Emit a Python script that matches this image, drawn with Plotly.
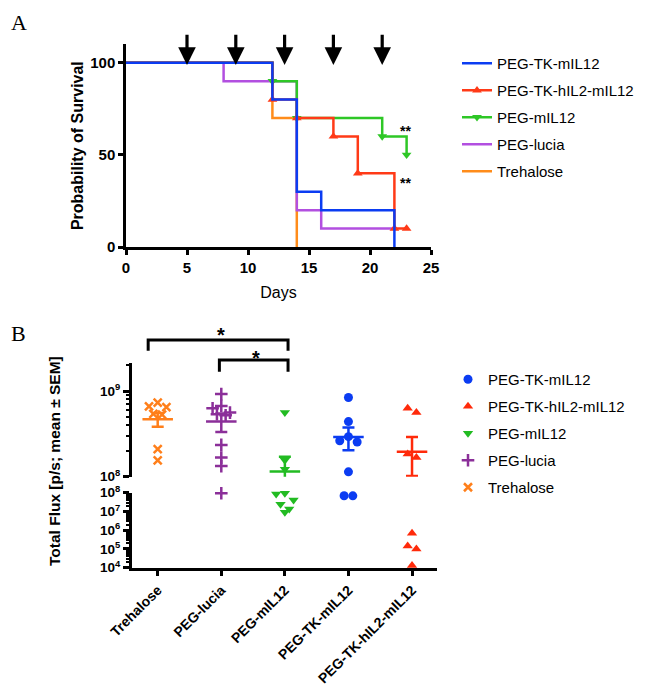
import numpy as np
import plotly.graph_objects as go

W, H = 646, 688
OFF = 8  # page body margin in the browser
FONT = "Arial, Liberation Sans, sans-serif"
SERIF = "Times New Roman, Liberation Serif, serif"

# ---------------- Panel A: survival data ----------------
days_tk = [0, 12, 14, 16, 22]
surv_tk = [100, 80, 30, 20, 0]
days_tkh = [0, 12, 14, 17, 19, 22, 23]
surv_tkh = [100, 80, 70, 60, 40, 10, 10]
days_mil = [0, 12, 14, 21, 23]
surv_mil = [100, 90, 70, 60, 50]
days_luc = [0, 8, 14, 16, 22]
surv_luc = [100, 90, 20, 10, 10]
days_tre = [0, 12, 14]
surv_tre = [100, 70, 0]
dose_days = [5, 9, 13, 17, 21]
x_ticks_a = [0, 5, 10, 15, 20, 25]
y_ticks_a = [0, 50, 100]
sig_a_text = ["**", "**"]
sig_a_y = [62.8, 34.6]
sig_a_x = [22.9, 22.9]

# ---------------- Panel B: flux data ----------------
categories = ["Trehalose", "PEG-lucia", "PEG-mIL12", "PEG-TK-mIL12", "PEG-TK-hIL2-mIL12"]
flux_trehalose = [7.3e8, 6.6e8, 6.5e8, 5.4e8, 5.3e8, 2.1e8, 1.55e8]
flux_lucia = [9.2e8, 6.7e8, 6.3e8, 5.6e8, 5.35e8, 5.2e8, 2.35e8, 1.67e8, 1.33e8, 9.3e7]
flux_mil12 = [5.6e8, 1.56e8, 1.22e8, 9.3e7, 8.5e7, 4.1e7, 2.4e7, 1.35e7, 9e6]
flux_tk = [8.4e8, 4.4e8, 2.93e8, 2.63e8, 2.54e8, 1.14e8, 6.9e7, 6.8e7]
flux_tkh = [6.3e8, 5.6e8, 1.84e8, 1.68e8, 6.8e5, 1.45e5, 1.0e5, 1.3e4]
flux_mean = [4.67e8, 4.4e8, 1.15e8, 2.9e8, 1.96e8]
flux_sem = [0.85e8, 1.07e8, 0.56e8, 0.86e8, 0.94e8]
flux_break = 1e8
y_upper_ticks = [1e8, 1e9]
y_lower_ticks = [1e4, 1e5, 1e6, 1e7, 1e8]

# ---------------- layout geometry (pixels) ----------------
def fx(p):
    return (p - OFF) / W

def fy(p):
    return 1 - (p - OFF) / H

XA_DOM = [fx(126), fx(431)]
YA_DOM = [fy(247), fy(44.3)]
XB_DOM = [fx(131.7), fx(436.7)]
YB_UP_DOM = [fy(476.7), fy(363)]
YB_LO_DOM = [fy(567.7), fy(492.7)]
XB_RANGE = [-0.409, 4.388]
YB_UP_RANGE = [8, 9.3267]
YB_LO_RANGE = [4, 8]

col_a = {"PEG-TK-mIL12": "#0b3cf2", "PEG-TK-hIL2-mIL12": "#ff3a17",
         "PEG-mIL12": "#2ec726", "PEG-lucia": "#b24fe0", "Trehalose": "#ff8c1a"}
col_b = {"PEG-TK-mIL12": "#0b3cf2", "PEG-TK-hIL2-mIL12": "#ff2a0a",
         "PEG-mIL12": "#22bb22", "PEG-lucia": "#8b2f99", "Trehalose": "#ff7f1a"}
legend_rank = {"PEG-TK-mIL12": 1, "PEG-TK-hIL2-mIL12": 2, "PEG-mIL12": 3,
               "PEG-lucia": 4, "Trehalose": 5}

fig = go.Figure()

# ---- Panel A traces (first group drawn on top) ----
surv = [
    ("Trehalose", days_tre, surv_tre, None),
    ("PEG-lucia", days_luc, surv_luc, None),
    ("PEG-mIL12", days_mil, surv_mil, "triangle-down"),
    ("PEG-TK-hIL2-mIL12", days_tkh, surv_tkh, "triangle-up"),
    ("PEG-TK-mIL12", days_tk, surv_tk, None),
]
for name, d, s, sym in surv:
    line = dict(color=col_a[name], width=2.5, shape="hv")
    fig.add_trace(go.Scatter(x=d, y=s, mode="lines", line=line, showlegend=False,
                             xaxis="x", yaxis="y", hoverinfo="skip"))
    if sym:
        fig.add_trace(go.Scatter(x=d[1:], y=s[1:], mode="markers", showlegend=False,
                                 marker=dict(symbol=sym, size=8.5, color=col_a[name]),
                                 xaxis="x", yaxis="y", cliponaxis=False))
    # legend proxy entry (no data)
    fig.add_trace(go.Scatter(x=[None], y=[None], name=name, xaxis="x", yaxis="y",
                             mode="lines+markers" if sym else "lines",
                             line=dict(color=col_a[name], width=2.5),
                             marker=dict(symbol=sym or "circle", size=8.5, color=col_a[name]),
                             legend="legend", legendgroup="A" + name,
                             legendrank=legend_rank[name]))

# ---- Panel B ----
unit_px = (XB_DOM[1] - XB_DOM[0]) * W / (XB_RANGE[1] - XB_RANGE[0])
up_ppd = (YB_UP_DOM[1] - YB_UP_DOM[0]) * H / (YB_UP_RANGE[1] - YB_UP_RANGE[0])
lo_ppd = (YB_LO_DOM[1] - YB_LO_DOM[0]) * H / (YB_LO_RANGE[1] - YB_LO_RANGE[0])
D_PX = 8.7


def swarm(values, ppd):
    vals = np.asarray(values, float)
    if len(vals) == 0:
        return np.array([])
    order = np.argsort(-vals)
    py = -np.log10(vals) * ppd
    offs = np.zeros(len(vals))
    rows, cur = [], []
    for idx in order:
        if cur and py[idx] - py[cur[0]] > 0.8 * D_PX:
            rows.append(cur)
            cur = []
        cur.append(idx)
    if cur:
        rows.append(cur)
    for row in rows:
        n = len(row)
        slots = sorted([(k - (n - 1) / 2) * D_PX for k in range(n)], key=lambda s: (abs(s), s))
        for idx, s in zip(row, slots):
            offs[idx] = s / unit_px
    return offs


groups_b = [
    ("PEG-TK-mIL12", flux_tk, "circle", 9),
    ("PEG-TK-hIL2-mIL12", flux_tkh, "triangle-up", 9),
    ("PEG-mIL12", flux_mil12, "triangle-down", 9),
    ("PEG-lucia", flux_lucia, "cross-thin-open", 9),
    ("Trehalose", flux_trehalose, "x-thin-open", 8),
]
for name, vals, sym, size in groups_b:
    ci = categories.index(name)
    vals = np.asarray(vals, float)
    up = vals[vals >= flux_break]
    lo = vals[vals < flux_break]
    thin = "thin" in sym
    mk = dict(symbol=sym, size=size, color=col_b[name],
              line=dict(width=2.5 if thin else 0, color=col_b[name]))
    fig.add_trace(go.Scatter(x=ci + swarm(up, up_ppd), y=up, mode="markers", name=name,
                             marker=mk, xaxis="x2", yaxis="y2", legend="legend2",
                             legendgroup="B" + name, legendrank=legend_rank[name],
                             cliponaxis=False))
    fig.add_trace(go.Scatter(x=ci + swarm(lo, lo_ppd), y=lo, mode="markers", name=name,
                             marker=mk, xaxis="x2", yaxis="y3", legend="legend2",
                             legendgroup="B" + name, showlegend=False, cliponaxis=False))
    m, s = flux_mean[ci], flux_sem[ci]
    fig.add_trace(go.Scatter(x=[ci - 0.24, ci + 0.24], y=[m, m], mode="lines",
                             line=dict(color=col_b[name], width=2.5), showlegend=False,
                             xaxis="x2", yaxis="y2", hoverinfo="skip"))
    fig.add_trace(go.Scatter(x=[ci], y=[m], mode="markers", marker=dict(size=1, opacity=0),
                             error_y=dict(type="data", array=[s], width=6, thickness=2.5,
                                          color=col_b[name]),
                             showlegend=False, xaxis="x2", yaxis="y2", cliponaxis=True,
                             hoverinfo="skip"))

# ---------------- annotations ----------------
ann = []
for d in dose_days:
    ann.append(dict(x=d, y=98.8, xref="x", yref="y", ax=d, ay=116, axref="x", ayref="y",
                    showarrow=True, arrowhead=2, arrowsize=1.1, arrowwidth=3.2,
                    arrowcolor="black", text=""))
for t, xv, yv in zip(sig_a_text, sig_a_x, sig_a_y):
    ann.append(dict(x=xv, y=yv, xref="x", yref="y", text=t, showarrow=False,
                    xanchor="center", yanchor="middle",
                    font=dict(size=14, family=FONT, color="black", weight="bold")))
ann.append(dict(x=fx(8.5), y=fy(8.5), xref="paper", yref="paper", xanchor="left",
                yanchor="top", text="A",
                showarrow=False, font=dict(size=22, family=SERIF, color="black")))
ann.append(dict(x=fx(8.5), y=fy(333), xref="paper", yref="paper", xanchor="left",
                yanchor="middle", text="B",
                showarrow=False, font=dict(size=22, family=SERIF, color="black")))
ann.append(dict(x=fx(55), y=fy(461), xref="paper", yref="paper", textangle=-90,
                xanchor="center", yanchor="middle",
                text="Total Flux [p/s; mean ± SEM]", showarrow=False,
                font=dict(size=15.5, family=FONT, color="black", weight="bold")))
ann.append(dict(x=1.0, y=fy(335), xref="x2", yref="paper", text="*", showarrow=False,
                xanchor="center", yanchor="middle",
                font=dict(size=20, family=FONT, color="black", weight="bold")))
ann.append(dict(x=1.55, y=fy(357.7), xref="x2", yref="paper", text="*", showarrow=False,
                xanchor="center", yanchor="middle",
                font=dict(size=20, family=FONT, color="black", weight="bold")))

shapes = [
    dict(type="path", xref="x2", yref="paper",
         path=f"M -0.15,{fy(350.7)} L -0.15,{fy(340)} L 2.05,{fy(340)} L 2.05,{fy(350.7)}",
         line=dict(color="black", width=3)),
    dict(type="path", xref="x2", yref="paper",
         path=f"M 0.97,{fy(371.7)} L 0.97,{fy(360)} L 2.05,{fy(360)} L 2.05,{fy(371.7)}",
         line=dict(color="black", width=3)),
]

axis_common = dict(showline=True, linecolor="black", linewidth=2.5, ticks="outside",
                   tickcolor="black", tickwidth=2.5, showgrid=False, zeroline=False,
                   mirror=False, automargin=False)


def log_minor(lo, hi):
    vals = []
    for e in range(lo, hi + 1):
        for k in range(2, 10):
            vals.append(k * 10 ** e)
    return vals


fig.update_layout(
    width=W, height=H, margin=dict(l=0, r=0, t=0, b=0, autoexpand=False),
    paper_bgcolor="white", plot_bgcolor="white",
    font=dict(family=FONT, color="black"),
    xaxis=dict(domain=XA_DOM, range=[0, 25], tickvals=x_ticks_a, ticklen=5, anchor="y",
               tickfont=dict(size=15, weight="bold"),
               title=dict(text="Days", font=dict(size=16), standoff=13), **axis_common),
    yaxis=dict(domain=YA_DOM, range=[0, 110], tickvals=y_ticks_a, ticklen=5, anchor="x",
               tickfont=dict(size=15, weight="bold"),
               title=dict(text="Probability of Survival", font=dict(size=16, weight="bold"),
                          standoff=3), **axis_common),
    xaxis2=dict(domain=XB_DOM, range=XB_RANGE, tickvals=list(range(len(categories))),
                ticktext=categories, tickangle=-45, ticklen=6, anchor="y3",
                tickfont=dict(size=14, weight="bold"), **axis_common),
    yaxis2=dict(domain=YB_UP_DOM, type="log", range=YB_UP_RANGE, anchor="x2",
                tickvals=y_upper_ticks,
                ticktext=["10<sup>%d</sup>" % round(np.log10(v)) for v in y_upper_ticks],
                ticklen=6, tickfont=dict(size=13.5, weight="bold"),
                minor=dict(tickvals=log_minor(8, 9), ticklen=3, tickwidth=1.5,
                           ticks="outside", tickcolor="black"),
                **axis_common),
    yaxis3=dict(domain=YB_LO_DOM, type="log", range=YB_LO_RANGE, anchor="x2",
                tickvals=y_lower_ticks,
                ticktext=["10<sup>%d</sup>" % round(np.log10(v)) for v in y_lower_ticks],
                ticklen=6, tickfont=dict(size=13.5, weight="bold"),
                minor=dict(tickvals=log_minor(4, 7), ticklen=3, tickwidth=1.5,
                           ticks="outside", tickcolor="black"),
                **axis_common),
    legend=dict(x=fx(457), y=fy(47), xanchor="left", yanchor="top",
                font=dict(size=15), traceorder="grouped", tracegroupgap=4.5,
                bgcolor="rgba(0,0,0,0)"),
    legend2=dict(x=fx(448), y=fy(363), xanchor="left", yanchor="top",
                 font=dict(size=15), traceorder="grouped", tracegroupgap=4.5,
                 bgcolor="rgba(0,0,0,0)"),
    annotations=ann,
    shapes=shapes,
    showlegend=True,
)

fig.write_html("out.html")
